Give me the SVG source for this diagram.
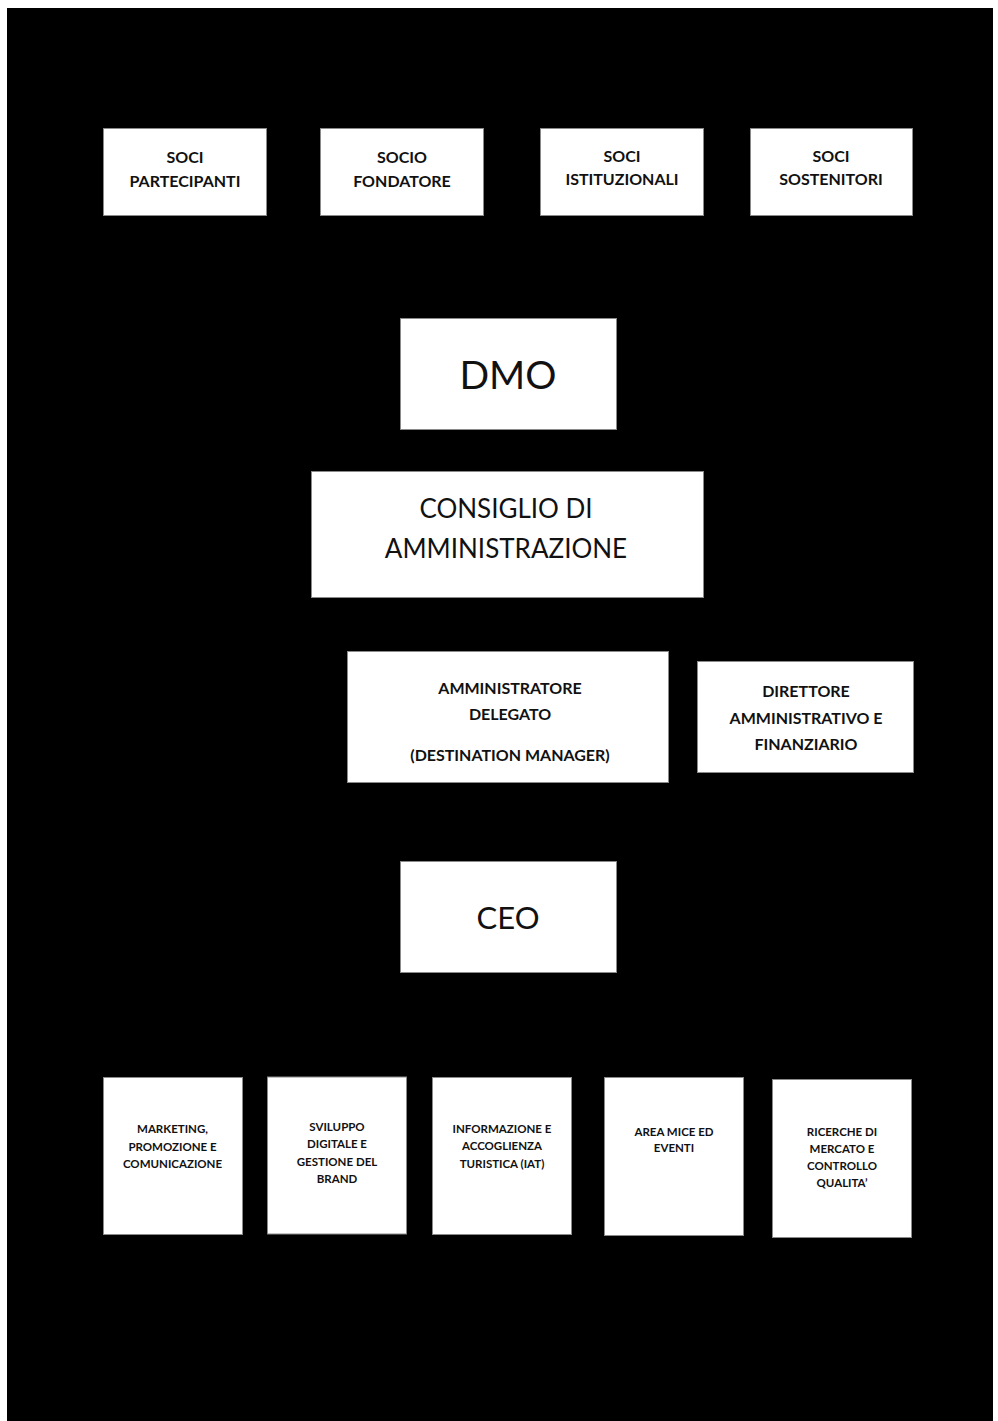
<svg xmlns="http://www.w3.org/2000/svg" width="998" height="1421" viewBox="0 0 998 1421">
<style>
.box{fill:#fff;stroke:#8a8a8a;stroke-width:1}
.b{font-family:Lato,"Liberation Sans",sans-serif;font-weight:700;fill:#111;text-anchor:middle}
.r{font-family:Lato,"Liberation Sans",sans-serif;font-weight:400;fill:#111;text-anchor:middle}
.s16{font-size:16px}
.s11{font-size:11.5px}
.conn{stroke:#000;stroke-width:1.5;fill:none}
</style>
<rect x="0" y="0" width="998" height="1421" fill="#fff"/>
<rect x="7" y="8" width="986" height="1413" fill="#000"/>
<g id="connectors">
<path class="conn" d="M185 215V265M402 215V265M622 215V265M831 215V265M185 265H831M508 265V318"/>
<path class="conn" d="M508 430V472M508 598V651M669 716H697M508 783V861"/>
<path class="conn" d="M508 972V1025M172 1025H842M172 1025V1077M337 1025V1077M502 1025V1077M674 1025V1077M842 1025V1079"/>
</g>
<g id="soci-partecipanti"><rect class="box" x="103.5" y="128.5" width="163" height="87"/><text class="b s16" x="185" y="163">SOCI</text><text class="b s16" x="185" y="187">PARTECIPANTI</text></g>
<g id="socio-fondatore"><rect class="box" x="320.5" y="128.5" width="163" height="87"/><text class="b s16" x="402" y="163">SOCIO</text><text class="b s16" x="402" y="187">FONDATORE</text></g>
<g id="soci-istituzionali"><rect class="box" x="540.5" y="128.5" width="163" height="87"/><text class="b s16" x="622" y="162">SOCI</text><text class="b s16" x="622" y="185">ISTITUZIONALI</text></g>
<g id="soci-sostenitori"><rect class="box" x="750.5" y="128.5" width="162" height="87"/><text class="b s16" x="831" y="162">SOCI</text><text class="b s16" x="831" y="185">SOSTENITORI</text></g>
<g id="dmo"><rect class="box" x="400.5" y="318.5" width="216" height="111"/><text class="r" font-size="39" x="508" y="389">DMO</text></g>
<g id="cda"><rect class="box" x="311.5" y="471.5" width="392" height="126"/><text class="r" font-size="26" x="506" y="518">CONSIGLIO DI</text><text class="r" font-size="26" x="506" y="558">AMMINISTRAZIONE</text></g>
<g id="amministratore"><rect class="box" x="347.5" y="651.5" width="321" height="131"/><text class="b s16" x="510" y="694">AMMINISTRATORE</text><text class="b s16" x="510" y="720">DELEGATO</text><text class="b s16" x="510" y="761">(DESTINATION MANAGER)</text></g>
<g id="direttore"><rect class="box" x="697.5" y="661.5" width="216" height="111"/><text class="b s16" x="806" y="697">DIRETTORE</text><text class="b s16" x="806" y="724">AMMINISTRATIVO E</text><text class="b s16" x="806" y="750">FINANZIARIO</text></g>
<g id="ceo"><rect class="box" x="400.5" y="861.5" width="216" height="111"/><text class="r" font-size="31" x="508" y="929">CEO</text></g>
<g id="marketing"><rect class="box" x="103.5" y="1077.5" width="139" height="157"/><text class="b s11" x="172.5" y="1133">MARKETING,</text><text class="b s11" x="172.5" y="1151">PROMOZIONE E</text><text class="b s11" x="172.5" y="1168">COMUNICAZIONE</text></g>
<g id="sviluppo"><rect class="box" x="267.5" y="1077" width="139" height="157"/><text class="b s11" x="337" y="1131">SVILUPPO</text><text class="b s11" x="337" y="1148">DIGITALE E</text><text class="b s11" x="337" y="1166">GESTIONE DEL</text><text class="b s11" x="337" y="1183">BRAND</text></g>
<g id="informazione"><rect class="box" x="432.5" y="1077.5" width="139" height="157"/><text class="b s11" x="502" y="1133">INFORMAZIONE E</text><text class="b s11" x="502" y="1150">ACCOGLIENZA</text><text class="b s11" x="502" y="1168">TURISTICA (IAT)</text></g>
<g id="area-mice"><rect class="box" x="604.5" y="1077.5" width="139" height="158"/><text class="b s11" x="674" y="1136">AREA MICE ED</text><text class="b s11" x="674" y="1152">EVENTI</text></g>
<g id="ricerche"><rect class="box" x="772.5" y="1079.5" width="139" height="158"/><text class="b s11" x="842" y="1136">RICERCHE DI</text><text class="b s11" x="842" y="1153">MERCATO E</text><text class="b s11" x="842" y="1170">CONTROLLO</text><text class="b s11" x="842" y="1187">QUALITA’</text></g>
</svg>
